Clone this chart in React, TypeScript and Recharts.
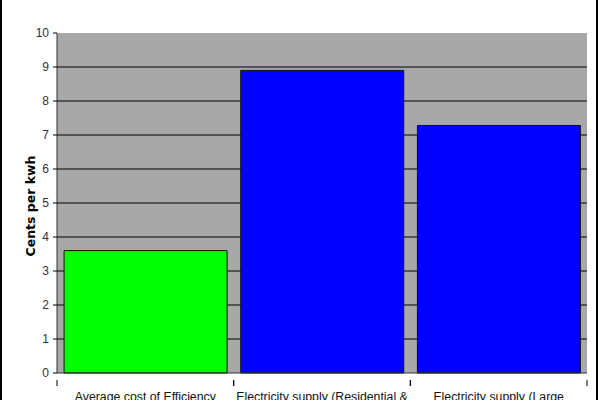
import React from "react";
import { BarChart, Bar, XAxis, YAxis, CartesianGrid, Cell } from "recharts";

const categories = [
  "Average cost of Efficiency",
  "Electricity supply (Residential &",
  "Electricity supply (Large",
];
const centsPerKwh = [3.6, 8.9, 7.28];
const barColors = ["#00ff00", "#0000ff", "#0000ff"];
const yTicks = [0, 1, 2, 3, 4, 5, 6, 7, 8, 9, 10];
const gridValues = [1, 2, 3, 4, 5, 6, 7, 8, 9];

const data = categories.map((name, i) => ({ name, value: centsPerKwh[i] }));

const HALF_BAND = 530 / 6;

const XTick = (props: any) => {
  const { x, y, payload } = props;
  return (
    <g>
      <line x1={x - HALF_BAND} x2={x - HALF_BAND} y1={y - 1} y2={y + 5} stroke="#000" />
      <line x1={x + HALF_BAND} x2={x + HALF_BAND} y1={y - 1} y2={y + 5} stroke="#000" />
      <text
        x={x}
        y={y + 20}
        textAnchor="middle"
        fontSize={12.3}
        fontFamily="Liberation Sans, Arial, sans-serif"
        fill="#111"
      >
        {payload.value}
      </text>
    </g>
  );
};

export default function App() {
  return (
    <div style={{ position: "absolute", left: 0, top: 0, width: 600, height: 400, background: "#fff", overflow: "hidden" }}>
      <BarChart
        width={600}
        height={400}
        data={data}
        margin={{ top: 33, right: 13, left: 0, bottom: 0 }}
        barCategoryGap="4%"
      >
        <CartesianGrid
          vertical={false}
          horizontalValues={gridValues}
          stroke="#000"
          fill="#a8a8a8"
          fillOpacity={1}
        />
        <XAxis
          dataKey="name"
          height={27}
          tickLine={false}
          axisLine={{ stroke: "#333" }}
          tick={<XTick />}
          interval={0}
        />
        <YAxis
          width={57}
          domain={[0, 10]}
          ticks={yTicks}
          interval={0}
          tickSize={4}
          tickMargin={4}
          axisLine={{ stroke: "#333" }}
          tickLine={{ stroke: "#000" }}
          tick={{ fontSize: 12, fill: "#333", fontFamily: "Liberation Sans, Arial, sans-serif" }}
          label={{
            value: "Cents per kwh",
            angle: -90,
            position: "insideLeft",
            offset: 0,
            dx: 31,
            dy: 3,
            style: {
              fontSize: 12.5,
              fontWeight: "bold",
              fill: "#000",
              fontFamily: "DejaVu Sans, Verdana, sans-serif",
              textAnchor: "middle",
            },
          }}
        />
        <Bar dataKey="value" isAnimationActive={false} stroke="#111" strokeWidth={1}>
          {data.map((d, i) => (
            <Cell key={d.name} fill={barColors[i]} />
          ))}
        </Bar>
      </BarChart>
      <div style={{ position: "absolute", left: 0, top: 0, width: 2, height: 400, background: "#000" }} />
      <div style={{ position: "absolute", left: 596, top: 0, width: 2, height: 400, background: "#000" }} />
    </div>
  );
}
